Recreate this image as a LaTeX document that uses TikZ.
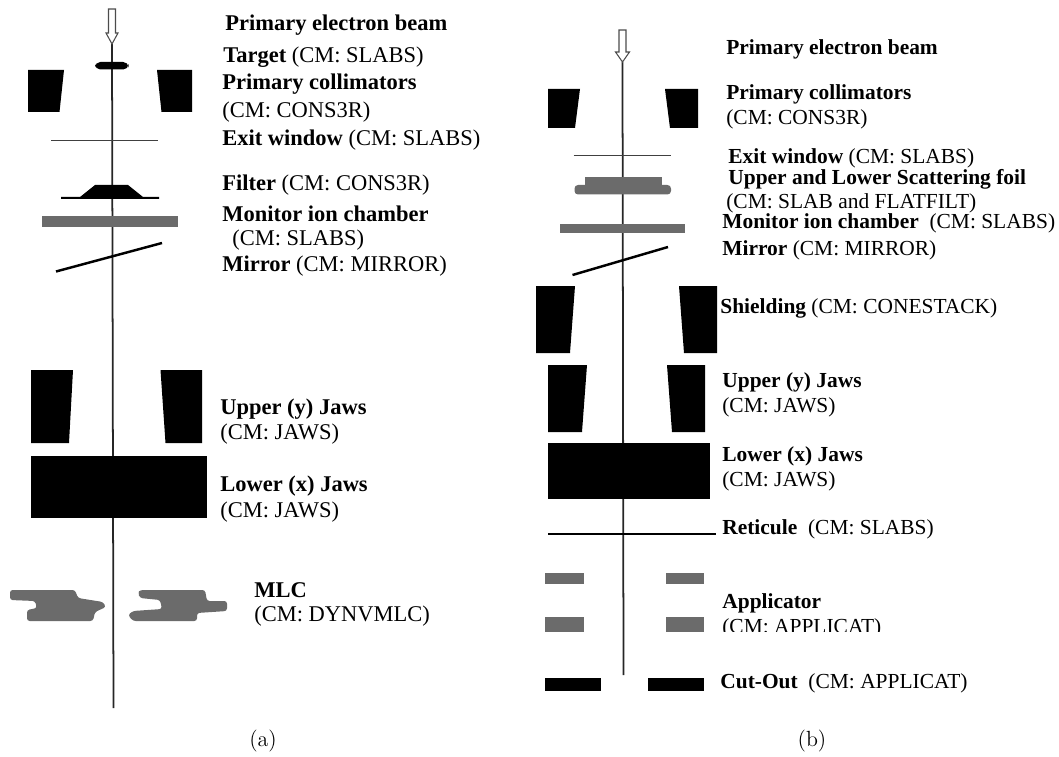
\documentclass[tikz,border=0pt]{standalone}
\usepackage{fontspec}
\newfontfamily\labelfont{Liberation Serif}
\usepackage{tikz}
\usetikzlibrary{arrows.meta,positioning,calc}
\tikzset{
  lbl/.style={anchor=west,inner sep=0pt,yshift=-1.1pt,font=\labelfont\fontsize{12.8}{14}\selectfont},
  lblb/.style={anchor=west,inner sep=0pt,yshift=-1.1pt,font=\labelfont\fontsize{12.2}{14}\selectfont},
  subcap/.style={inner sep=0pt,font=\fontsize{12.5}{14}\selectfont},
  axisline/.style={line width=1pt,black!85},
  beamarrow/.style={draw=black!70,fill=white,line width=0.6pt},
  solidpart/.style={fill=black},
  graypart/.style={fill=black!58},
  thinfoil/.style={line width=0.4pt,black!75},
  mirrorline/.style={line width=1.4pt,black}
}
\begin{document}
\begin{tikzpicture}[x=0.02cm,y=-0.02cm]
\useasboundingbox (0,0) rectangle (1059,757);
% Panel (a): beam axis
\coordinate (tipa) at (112,44);
\coordinate (enda) at (113.5,708);
\draw[axisline] (tipa) -- (enda);
\draw[beamarrow] (108.5,9) -- (115.5,9) -- (115.5,33) -- (118,33) -- (tipa) -- (106,33) -- (108.5,33) -- cycle;
% Target and primary collimators
\fill[solidpart,rounded corners=3pt] (95,62) rectangle (128.5,69.5);
\fill[solidpart] (28,70) -- (64,70) -- (59.5,112) -- (28,112) -- cycle;
\fill[solidpart] (157,70) -- (192,70) -- (192,112) -- (161.5,112) -- cycle;
% Exit window, filter, chamber, mirror
\draw[thinfoil] (51,140.5) -- (158,140.5);
\fill[solidpart] (61,197) -- (80,197) -- (95,185) -- (128,185) -- (143,197) -- (159,197) -- (159,199) -- (61,199) -- cycle;
\fill[graypart] (42,216.5) rectangle (178,226.5);
\draw[mirrorline] (56,271.5) -- (162,243);
% Jaws
\fill[solidpart] (31,370) -- (73,370) -- (69,443) -- (31,443) -- cycle;
\fill[solidpart] (160.5,370) -- (202,370) -- (202,443) -- (165.5,443) -- cycle;
\fill[solidpart] (31,456) rectangle (207,517.5);
% MLC
\fill[graypart,rounded corners=1.5pt] (10,590) -- (75,590) -- (78,598) -- (103,602) -- (106,607) -- (95,612) -- (93,621) -- (27,621) -- (27,610) -- (37,608) -- (35,601) -- (10,600) -- cycle;
\fill[graypart,rounded corners=1.5pt] (140,590) -- (205,590) -- (207,601) -- (227,601) -- (227,611) -- (197,613) -- (197,621) -- (133,621) -- (128,615) -- (133,611) -- (162,609) -- (160,600) -- (140,598) -- (138,593) -- cycle;
% Labels of panel (a)
\node[lbl] (beama) at (225,23) {\textbf{Primary electron beam}};
\node[lbl] (targeta) at (223,55) {\textbf{Target} (CM: SLABS)};
\node[lbl] (colla) at (222,82) {\textbf{Primary collimators}};
\node[lbl] (collcma) at (222,110) {(CM: CONS3R)};
\node[lbl] (exita) at (222,138) {\textbf{Exit window} (CM: SLABS)};
\node[lbl] (filtera) at (222,183) {\textbf{Filter} (CM: CONS3R)};
\node[lbl] (mona) at (222,212) {\textbf{Monitor ion chamber}};
\node[lbl] (moncma) at (232,238) {(CM: SLABS)};
\node[lbl] (mirra) at (222,264) {\textbf{Mirror} (CM: MIRROR)};
\node[lbl] (upa) at (220,407) {\textbf{Upper (y) Jaws}};
\node[lbl] (upcma) at (220,432) {(CM: JAWS)};
\node[lbl] (lowa) at (220,484) {\textbf{Lower (x) Jaws}};
\node[lbl] (lowcma) at (220,510) {(CM: JAWS)};
\node[lbl] (mlca) at (254,588) {\textbf{MLC}};
\node[lbl] (mlccma) at (254,614) {(CM: DYNVMLC)};
\node[subcap] (capa) at (263,741) {(a)};
% Panel (b): beam axis
\coordinate (tipb) at (622.5,62);
\coordinate (endb) at (623.5,675);
\draw[axisline] (tipb) -- (endb);
\draw[beamarrow] (619,30) -- (626,30) -- (626,52) -- (629.5,52) -- (tipb) -- (615.5,52) -- (619,52) -- cycle;
% Primary collimators
\fill[solidpart] (548,89) -- (580,89) -- (575,128) -- (548,128) -- cycle;
\fill[solidpart] (665,89) -- (698,89) -- (698,128) -- (670,128) -- cycle;
% Exit window, foils, chamber, mirror
\draw[thinfoil] (573.5,155) -- (671,155);
\fill[graypart] (584.5,177) rectangle (661.5,185);
\fill[graypart,rounded corners=2pt] (574.5,185) rectangle (671,194.5);
\fill[graypart] (560,224) rectangle (684.5,232.5);
\draw[mirrorline] (572.5,275) -- (668,247);
% Shielding
\fill[solidpart] (536,286) -- (575,286) -- (570,353) -- (536,353) -- cycle;
\fill[solidpart] (679,286) -- (717,286) -- (717,353) -- (684,353) -- cycle;
% Jaws
\fill[solidpart] (548,365) -- (587,365) -- (582,432) -- (548,432) -- cycle;
\fill[solidpart] (667,365) -- (705,365) -- (705,432) -- (672,432) -- cycle;
\fill[solidpart] (548,443) rectangle (710,498.5);
% Reticule
\draw[line width=1pt] (548,534) -- (716,534);
% Applicator and cut-out
\fill[graypart] (545,573) rectangle (584,584);
\fill[graypart] (666,573) rectangle (704,584);
\fill[graypart] (545,617) rectangle (584,632);
\fill[graypart] (666,617) rectangle (704,632);
\fill[solidpart] (545,678) rectangle (601,691);
\fill[solidpart] (648,678) rectangle (704,691);
% Labels of panel (b)
\node[lblb] (beamb) at (726,47) {\textbf{Primary electron beam}};
\node[lblb] (collb) at (726,92) {\textbf{Primary collimators}};
\node[lblb] (collcmb) at (726,117) {(CM: CONS3R)};
\node[lblb] (exitb) at (728,156) {\textbf{Exit window} (CM: SLABS)};
\node[lblb] (foilb) at (728,177) {\textbf{Upper and Lower Scattering foil}};
\node[lblb] (foilcmb) at (726,201) {(CM: SLAB and FLATFILT)};
\node[lblb] (monb) at (722,221) {\textbf{Monitor ion chamber}\ \ (CM: SLABS)};
\node[lblb] (mirrb) at (722,248) {\textbf{Mirror} (CM: MIRROR)};
\node[lblb] (shieldb) at (720,306) {\textbf{Shielding} (CM: CONESTACK)};
\node[lblb] (upb) at (722,380) {\textbf{Upper (y) Jaws}};
\node[lblb] (upcmb) at (722,405) {(CM: JAWS)};
\node[lblb] (lowb) at (722,454) {\textbf{Lower (x) Jaws}};
\node[lblb] (lowcmb) at (722,479) {(CM: JAWS)};
\node[lblb] (retb) at (722,527) {\textbf{Reticule}\ \ (CM: SLABS)};
\node[lblb] (appb) at (722,601) {\textbf{Applicator}};
\node[lblb] (appcmb) at (722,626) {(CM: APPLICAT)};
% the lower edge of this line is cut off
\fill[white] (718,632) rectangle (900,640);
\node[lblb] (cutb) at (720,681) {\textbf{Cut-Out}\ \ (CM: APPLICAT)};
\node[subcap] (capb) at (812,741) {(b)};
\end{tikzpicture}
\end{document}
